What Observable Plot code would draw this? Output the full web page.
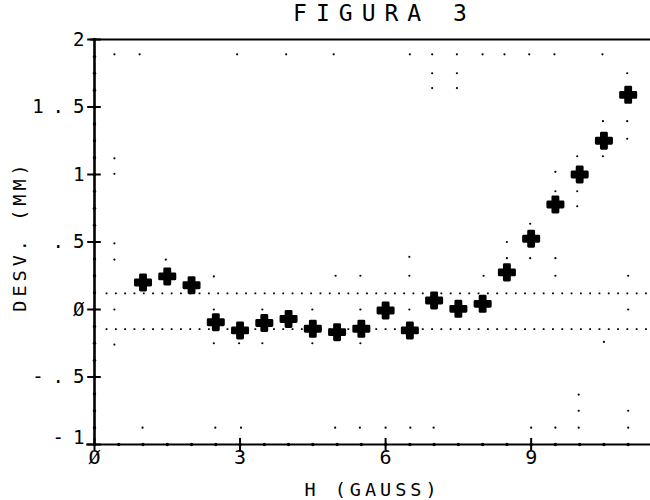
<!DOCTYPE html>
<html><head><meta charset="utf-8">
<script src="https://cdn.jsdelivr.net/npm/d3@7"></script>
<script src="https://cdn.jsdelivr.net/npm/@observablehq/plot@0.6"></script>
<style>
body{margin:0;background:#fff;}
</style>
</head><body>
<div id="chart"></div>
<script>
// Measured deviations
const hValues = [1,1.5,2,2.5,3,3.5,4,4.5,5,5.5,6,6.5,7,7.5,8,8.5,9,9.5,10,10.5,11];
const desvValues = [0.20,0.245,0.18,-0.094,-0.155,-0.10,-0.07,-0.143,-0.168,-0.143,-0.007,-0.155,0.067,0.005,0.042,0.275,0.524,0.778,1.0,1.25,1.59];

// Reference (dotted) levels
const refLevels = [0.12, -0.145];

// Tick values and labels
const yTickValues = [-0.5,0,0.5,1,1.5,2];
const yTickLabels = ["-.5","Ø",".5","1","1.5","2"];
const yBottomValue = [-1];
const yBottomLabel = ["-1"];
const xTickValues = [0,3,6,9];
const xTickLabels = ["Ø","3","6","9"];
const yMinor = d3.range(-1, 2.001, 0.125);
const xMinor = d3.range(0, 11.5, 0.5);

// Stray plotter dots
const strayX = [0.41,0.93,2.94,3.95,4.93,6.5,6.96,7.47,8.0,8.45,8.96,9.48,10.47,
  6.96,7.47,10.98, 6.96,7.47, 10.48,10.98,10.98, 9.95,10.48, 0.41,0.41,
  9.5,9.5,9.95,9.95, 8.98,8.5,0.41, 8.5,8.98,9.5,6.49,0.41,1.47,
  2.46,4.97,5.48,6.49,8.02,9.5,11.0,
  0.41,2.46,3.46,4.49,5.48,6.49,11.0,
  0.41,2.46,2.98,3.46,4.49,5.48,10.5,
  9.98,9.98,11.0,
  0.99,2.49,3.02,4.96,5.47,6.0,6.51,6.99,9.0,9.5,9.98,11.0];
const strayY = [1.89,1.89,1.89,1.89,1.89,1.89,1.89,1.89,1.89,1.89,1.89,1.89,1.89,
  1.75,1.75,1.75, 1.64,1.64, 1.395,1.395,1.265, 1.135,1.135, 1.12,1.005,
  1.02,0.876,0.876,0.765, 0.635,0.50,0.49, 0.38,0.38,0.38,0.39,0.37,0.37,
  0.245,0.25,0.25,0.25,0.25,0.25,0.25,
  0.0,0.0,0.0,0.0,0.0,0.0,0.0,
  -0.26,-0.25,-0.25,-0.25,-0.25,-0.25,-0.24,
  -0.63,-0.75,-0.75,
  -0.875,-0.875,-0.875,-0.875,-0.875,-0.875,-0.875,-0.875,-0.875,-0.875,-0.875,-0.875];

const points = hValues.map((h,i)=>({h, d: desvValues[i]}));
const stray = strayX.map((x,i)=>({x, y: strayY[i]}));
const yTicks = yTickValues.map((v,i)=>({v, t: yTickLabels[i]}));
const yBottom = yBottomValue.map((v,i)=>({v, t: yBottomLabel[i]}));
const xTicks = xTickValues.map((v,i)=>({v, t: xTickLabels[i]}));

const FONT = "DejaVu Sans Mono";
const chart = Plot.plot({
  width: 650, height: 500,
  marginLeft: 94, marginRight: 0, marginTop: 39, marginBottom: 56,
  style: {fontFamily: FONT, background: "white"},
  x: {domain: [0, 11.46], axis: null},
  y: {domain: [-1, 2], axis: null},
  marks: [
    Plot.ruleY(refLevels, {x1: 0.24, x2: 11.46, stroke: "black", strokeWidth: 1.8, strokeDasharray: "1.8,7.5"}),
    Plot.dot(stray, {x: "x", y: "y", r: 1.1, fill: "black"}),
    Plot.ruleX([0], {y1: -1, y2: 2, stroke: "black", strokeWidth: 2.6}),
    Plot.ruleY([2], {x1: -0.08, x2: 11.46, stroke: "black", strokeWidth: 2}),
    Plot.ruleY([-1], {x1: -0.16, x2: 11.46, stroke: "black", strokeWidth: 2}),
    Plot.dot(yMinor, {x: 0, y: d=>d, r: 1.7, fill: "black"}),
    Plot.ruleY([...yTickValues, ...yBottomValue], {x1: -0.14, x2: 0.14, stroke: "black", strokeWidth: 2}),
    Plot.dot(xMinor, {x: d=>d, y: -1, r: 1.7, fill: "black"}),
    Plot.ruleX(xTickValues, {y1: -1.045, y2: -0.955, stroke: "black", strokeWidth: 2}),
    Plot.text(yTicks, {x: 0, y: "v", text: "t", textAnchor: "end", dx: -1, fill: "black", fontSize: 19, fontFamily: FONT}),
    Plot.text(yBottom, {x: 0, y: "v", text: "t", textAnchor: "end", dx: -1, dy: -7, fill: "black", fontSize: 19, fontFamily: FONT}),
    Plot.text(xTicks, {x: "v", y: -1, text: "t", lineAnchor: "top", dy: 5, fill: "black", fontSize: 20, fontFamily: FONT}),
    Plot.text(["FIGURA 3"], {frameAnchor: "top", text: d=>d, dx: 12, dy: -26, lineAnchor: "middle", fill: "black", fontSize: 23, fontFamily: FONT}),
    Plot.text(["H (GAUSS)"], {frameAnchor: "bottom", text: d=>d, dx: 0, dy: 46, lineAnchor: "middle", fill: "black", fontSize: 18.5, fontFamily: FONT}),
    Plot.text(["DESV. (MM)"], {frameAnchor: "left", text: d=>d, rotate: -90, textAnchor: "middle", dx: -74, dy: -6, lineAnchor: "middle", fill: "black", fontSize: 18.5, fontFamily: FONT}),
    Plot.dot(points, {x: "h", y: "d", symbol: "cross", r: 6.4, fill: "black", stroke: "black", strokeWidth: 2.8, strokeLinejoin: "round"})
  ]
});
// letter spacing like the plotter font
const spacing = {"19": "9px", "23": "9px", "18.5": "4px"};
d3.select(chart).selectAll("g[font-size]").each(function(){
  const fs = this.getAttribute("font-size");
  if (spacing[fs]) d3.select(this).style("letter-spacing", spacing[fs]);
});
document.getElementById("chart").appendChild(chart);
</script>
</body></html>
